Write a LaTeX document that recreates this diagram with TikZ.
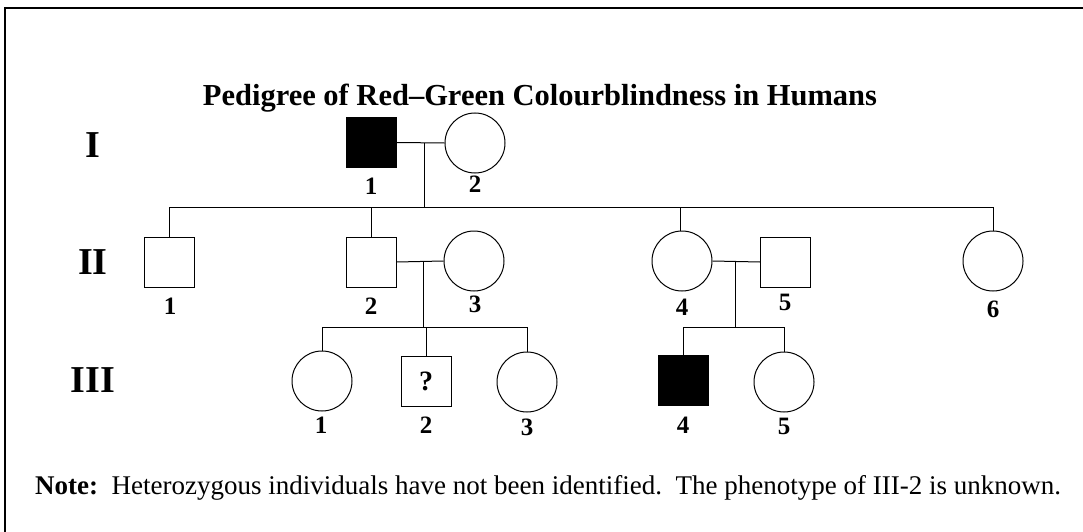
\documentclass[tikz,border=0pt]{standalone}
\usepackage{fontspec}
\setmainfont{Liberation Serif}
\begin{document}
\begin{tikzpicture}[x=1pt,y=-1pt,
  male/.style={draw, rectangle, minimum size=50, inner sep=0, line width=1},
  female/.style={draw, circle, minimum size=60, inner sep=0, line width=1},
  aff/.style={fill=black},
  conn/.style={line width=1},
  num/.style={font=\fontsize{25}{25}\selectfont\bfseries, inner sep=0},
  gen/.style={font=\fontsize{38}{38}\selectfont\bfseries, inner sep=0}]
\useasboundingbox (0,0) rectangle (1083,532);
\draw[line width=1.3] (5,532) -- (5,8) -- (1083,8);

\node[font=\fontsize{30.5}{30.5}\selectfont\bfseries, inner sep=0] (title) at (540,98) {Pedigree of Red–Green Colourblindness in Humans};

\node[gen] (gI) at (93,145) {I};
\node[gen] (gII) at (93,262) {II};
\node[gen] (gIII) at (93,380) {III};

% Generation I
\node[male,aff] (I1) at (371.5,142.5) {};
\node[female] (I2) at (475,143) {};
\node[num] (lI1) at (371,186) {1};
\node[num] (lI2) at (475,184) {2};

% Generation II
\node[male] (II1) at (169.5,262) {};
\node[male] (II2) at (371,262) {};
\node[female] (II3) at (474,261) {};
\node[female] (II4) at (682,261) {};
\node[male] (II5) at (785.5,262) {};
\node[female] (II6) at (993,261) {};
\node[num] (lII1) at (170,306) {1};
\node[num] (lII2) at (371,306) {2};
\node[num] (lII3) at (475,304) {3};
\node[num] (lII4) at (682,307) {4};
\node[num] (lII5) at (785,302) {5};
\node[num] (lII6) at (993,309) {6};

% Generation III
\node[female] (III1) at (322,381) {};
\node[male,font=\fontsize{28}{28}\selectfont\bfseries] (III2) at (426,381) {?};
\node[female] (III3) at (527,382) {};
\node[male,aff] (III4) at (683,380.5) {};
\node[female] (III5) at (784,382) {};
\node[num] (lIII1) at (321,425) {1};
\node[num] (lIII2) at (426,425) {2};
\node[num] (lIII3) at (527,427) {3};
\node[num] (lIII4) at (683,425) {4};
\node[num] (lIII5) at (784,426) {5};

% coordinates
\coordinate (m1) at (424,143);
\coordinate (s1) at (424,207);
\coordinate (m2) at (423,262);
\coordinate (s2) at (423,327);
\coordinate (m3) at (735,262);
\coordinate (s3) at (735,327);
\coordinate (d4) at (680,231);

% Generation I connectors
\draw[conn] (I1.east) -- (I2.west);
\draw[conn] (m1) -- (s1);
\draw[conn] (II1.north |- s1) -- (II6.north |- s1);
\draw[conn] (II1.north |- s1) -- (II1.north);
\draw[conn] (II2.north |- s1) -- (II2.north);
\draw[conn] (d4 |- s1) -- (d4);
\draw[conn] (II6.north |- s1) -- (II6.north);

% Generation II connectors
\draw[conn] (II2.east) -- (II3.west);
\draw[conn] (m2) -- (s2);
\draw[conn] (III1.north |- s2) -- (III3.north |- s2);
\draw[conn] (III1.north |- s2) -- (III1.north);
\draw[conn] (III2.north |- s2) -- (III2.north);
\draw[conn] (III3.north |- s2) -- (III3.north);

\draw[conn] (II4.east) -- (II5.west);
\draw[conn] (m3) -- (s3);
\draw[conn] (III4.north |- s3) -- (III5.north |- s3);
\draw[conn] (III4.north |- s3) -- (III4.north);
\draw[conn] (III5.north |- s3) -- (III5.north);

\node[anchor=base west, inner sep=0, font=\fontsize{27}{27}\selectfont] (note) at (35,494) {\textbf{Note:}\ \ Heterozygous individuals have not been identified.\ \ The phenotype of III-2 is unknown.};
\end{tikzpicture}
\end{document}
